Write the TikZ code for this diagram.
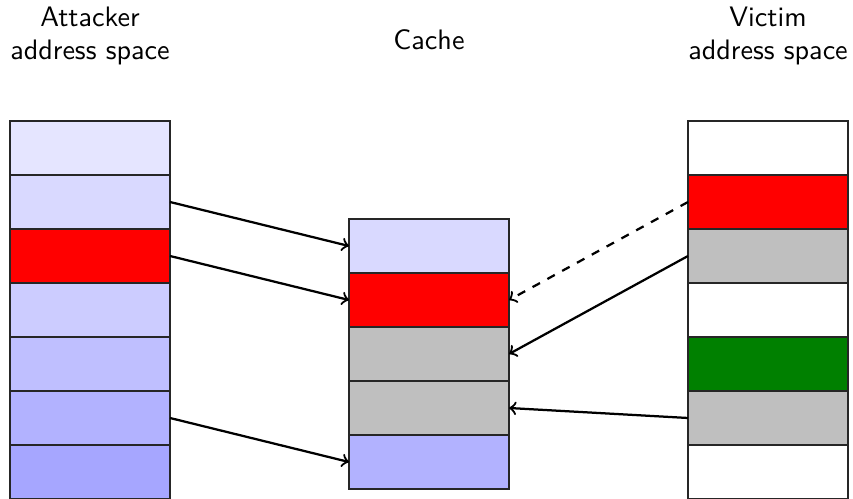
\documentclass[tikz,border=0pt]{standalone}
\begin{document}
\begin{tikzpicture}[x=0.0125cm,y=-0.0125cm,
  cell/.style={draw=black!85, rectangle, inner sep=0pt, outer sep=0pt,
    minimum width=2cm, minimum height=0.675cm},
  title/.style={font=\sffamily, align=center},
  link/.style={->, thick}]
\useasboundingbox (0,0) rectangle (853,499);
% column titles
\node[title] (ta) at (90,36) {Attacker\\address space};
\node[title] (tc) at (429,40) {Cache};
\node[title] (tv) at (768,36) {Victim\\address space};
% attacker address space
\foreach \c [count=\i] in {blue!10,blue!15,red,blue!20,blue!25,blue!30,blue!35}
  \node[cell, fill=\c] (a\i) at (90,{121+54*(\i-0.5)}) {};
% cache
\foreach \c [count=\i] in {blue!15,red,lightgray,lightgray,blue!30}
  \node[cell, fill=\c] (c\i) at (429,{219+54*(\i-0.5)}) {};
% victim address space
\foreach \c [count=\i] in {white,red,lightgray,white,green!50!black,lightgray,white}
  \node[cell, fill=\c] (v\i) at (768,{121+54*(\i-0.5)}) {};
% mappings into the cache
\draw[link] (a2.east) -- (c1.west);
\draw[link] (a3.east) -- (c2.west);
\draw[link] (a6.east) -- (c5.west);
\draw[link, dashed] (v2.west) -- (c2.east);
\draw[link] (v3.west) -- (c3.east);
\draw[link] (v6.west) -- (c4.east);
\end{tikzpicture}
\end{document}
